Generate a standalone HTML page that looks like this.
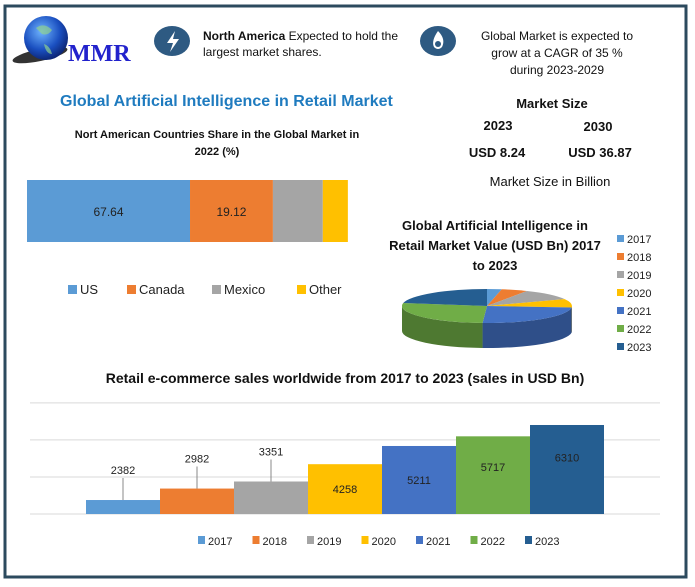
<!DOCTYPE html>
<html><head><meta charset="utf-8"><style>
body{margin:0;width:695px;height:582px;background:#fff;font-family:"Liberation Sans",sans-serif;overflow:hidden}
</style></head><body>
<svg width="695" height="582" xmlns="http://www.w3.org/2000/svg" font-family="Liberation Sans, sans-serif">
<defs>
<radialGradient id="globe" cx="0.4" cy="0.35" r="0.7"><stop offset="0" stop-color="#6fb4ff"/><stop offset="0.6" stop-color="#1a4fc0"/><stop offset="1" stop-color="#0a1f6a"/></radialGradient>
</defs>
<rect x="5" y="6" width="681" height="571" fill="none" stroke="#2c4a5e" stroke-width="3"/>
<g>
<ellipse cx="40" cy="55" rx="28" ry="6" fill="#333" transform="rotate(-12 40 55)"/>
<circle cx="46" cy="38" r="22" fill="url(#globe)"/>
<path d="M36 28 q8 -6 16 2 q-4 6 -10 4 z M44 44 q6 2 8 10 q-6 0 -8 -10z" fill="#8fd08f" opacity="0.7"/>
<text x="68" y="61" font-family="Liberation Serif, serif" font-weight="bold" font-size="24" fill="#2222cc">MMR</text>
</g>
<g><ellipse cx="172" cy="41" rx="18" ry="15" fill="#2e5a82"/><path d="M175 31 l-8 12 h6 l-3 9 l9 -13 h-6 z" fill="#fff"/></g>
<text x="203" y="40" font-size="12" fill="#111"><tspan font-weight="bold">North America</tspan> Expected to hold the</text>
<text x="203" y="56" font-size="12" fill="#111">largest market shares.</text>
<g><ellipse cx="438" cy="41" rx="18" ry="15" fill="#2e5a82"/><path d="M438 31 q8 8 4 16 q-4 4 -8 0 q-3 -6 4 -16z" fill="#fff"/><circle cx="438" cy="44" r="3" fill="#2e5a82"/></g>
<g font-size="12" fill="#111" text-anchor="middle">
<text x="557" y="40">Global Market is expected to</text><text x="557" y="57">grow at a CAGR of 35 %</text><text x="557" y="74">during 2023-2029</text></g>
<text x="60" y="106" font-size="16" font-weight="bold" fill="#1f7bbf">Global Artificial Intelligence in Retail Market</text>
<g font-size="11" font-weight="bold" fill="#111" text-anchor="middle"><text x="217" y="138">Nort American Countries Share in the Global Market in</text><text x="217" y="155">2022 (%)</text></g>
<g font-weight="bold" font-size="13" fill="#111" text-anchor="middle">
<text x="552" y="108">Market Size</text><text x="498" y="130">2023</text><text x="598" y="131">2030</text>
<text x="497" y="157">USD 8.24</text><text x="600" y="157">USD 36.87</text>
<text x="550" y="186" font-weight="normal">Market Size in Billion</text></g>
<g id="stack"></g>
<g id="pie"></g>
<g font-size="13" font-weight="bold" fill="#111" text-anchor="middle"><text x="495" y="230">Global Artificial Intelligence in</text><text x="495" y="250">Retail Market Value (USD Bn) 2017</text><text x="495" y="270">to 2023</text></g>
<text x="345" y="383" font-size="14" font-weight="bold" fill="#111" text-anchor="middle">Retail e-commerce sales worldwide from 2017 to 2023 (sales in USD Bn)</text>
<g id="bars"></g>
</svg>
<script>
const NS="http://www.w3.org/2000/svg";
const colors=["#5b9bd5","#ed7d31","#a5a5a5","#ffc000","#4472c4","#70ad47","#255e91"];
function mk(p,t,a,txt){const e=document.createElementNS(NS,t);for(const k in a)e.setAttribute(k,a[k]);if(txt!==undefined)e.textContent=txt;p.appendChild(e);return e;}
// stacked share
const shareCats=["US","Canada","Mexico","Other"];
const shareValues=[67.64,34.4,20.7,10.4];
const shareLabels=["67.64","19.12","",""];
const sg=document.getElementById('stack');
const sx=v=>v*2.41;
let acc=27;
shareValues.forEach((v,i)=>{
 const r=mk(sg,'rect',{x:acc,y:180,width:sx(v),height:62,fill:colors[i]});
 
 
 if(shareLabels[i]){const t=mk(sg,'text',{x:acc+sx(v)/2,y:216,'font-size':12,'text-anchor':'middle',fill:'#222'},shareLabels[i]);
 }
 acc+=sx(v);
});
const legX=[68,127,212,297];
shareCats.forEach((c,i)=>{const g=mk(sg,'g',{});
 
 mk(g,'rect',{x:legX[i],y:285,width:9,height:9,fill:colors[i]});
 mk(g,'text',{x:legX[i]+12,y:294,'font-size':13,fill:'#222'},c);});
// pie
const years=["2017","2018","2019","2020","2021","2022","2023"];
const pieValues=[10,18,38,29,88,97,80];
const pg=document.getElementById('pie');
const cx=487,cy=306,rx=85,ry=17,dep=25;
const tot=pieValues.reduce((a,b)=>a+b,0);
const P=(a)=>[cx+rx*Math.sin(a),cy-ry*Math.cos(a)];
function shade(h,f){const n=parseInt(h.slice(1),16);let r=(n>>16)*f,g=((n>>8)&255)*f,b=(n&255)*f;return `rgb(${r|0},${g|0},${b|0})`;}
let a0=0;const angs=[];
pieValues.forEach(v=>{const a1=a0+v/tot*2*Math.PI;angs.push([a0,a1]);a0=a1;});
// side walls (front half: angle between 90 and 270 deg)
angs.forEach(([s,e],i)=>{
 const lo=Math.max(s,Math.PI/2),hi=Math.min(e,1.5*Math.PI);
 if(hi>lo){const [x1,y1]=P(lo),[x2,y2]=P(hi);
 const w=mk(pg,'path',{d:`M${x1},${y1} A${rx},${ry} 0 0 1 ${x2},${y2} L${x2},${y2+dep} A${rx},${ry} 0 0 0 ${x1},${y1+dep} Z`,fill:shade(colors[i],0.7)});
 }
});
angs.forEach(([s,e],i)=>{const [x1,y1]=P(s),[x2,y2]=P(e);const large=(e-s)>Math.PI?1:0;
 const p=mk(pg,'path',{d:`M${cx},${cy} L${x1},${y1} A${rx},${ry} 0 ${large} 1 ${x2},${y2} Z`,fill:colors[i]});
 });
years.forEach((y,i)=>{const g=mk(pg,'g',{});
 
 mk(g,'rect',{x:617,y:235+i*18,width:7,height:7,fill:colors[i]});
 mk(g,'text',{x:627,y:243+i*18,'font-size':11,fill:'#222'},y);});
// bars
const barValues=[2382,2982,3351,4258,5211,5717,6310];
const barLabels=["2382","2982","3351","4258","5211","5717","6310"];
const bg=document.getElementById('bars');
const vmin=1650,base=514,ppu=0.0191;
const yS=v=>base-(v-vmin)*ppu;
const gridVals=[1650,3590,5530,7470];
gridVals.forEach(v=>{const l=mk(bg,'line',{x1:30,x2:660,y1:yS(v),y2:yS(v),stroke:'#d9d9d9','stroke-width':1});
 });
const bx=i=>86+i*74;
barValues.forEach((v,i)=>{
 const r=mk(bg,'rect',{x:bx(i),y:yS(v),width:74,height:base-yS(v),fill:colors[i]});
 
 let ty;
 if(i<3){ty=yS(v)-26;mk(bg,'line',{x1:bx(i)+37,x2:bx(i)+37,y1:ty+4,y2:yS(v),stroke:'#888'});}
 else ty=(yS(v)+base)/2+4-(i>=5?8:0)-(i==6?4:0);
 const t=mk(bg,'text',{x:bx(i)+37,y:ty,'font-size':11,'text-anchor':'middle',fill:'#222'},barLabels[i]);
 
});
years.forEach((y,i)=>{const g=mk(bg,'g',{});
 
 const x=198+i*54.5;
 mk(g,'rect',{x:x,y:536,width:7,height:8,fill:colors[i]});
 mk(g,'text',{x:x+10,y:545,'font-size':11,fill:'#222'},y);});
</script>
</body></html>
